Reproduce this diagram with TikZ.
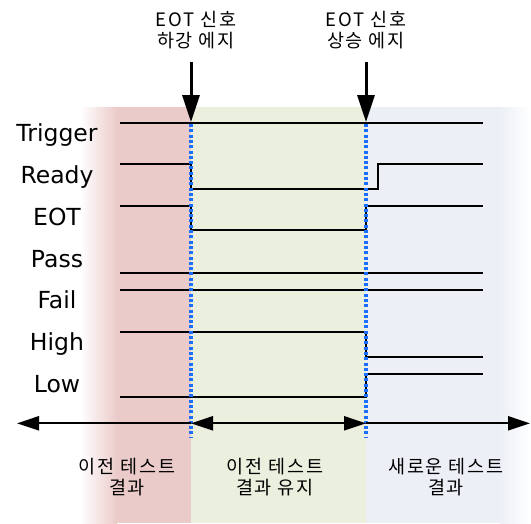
\documentclass[tikz,border=0pt]{standalone}
\usepackage{fontspec}
\setmainfont{DejaVu Sans}
\newfontfamily\kr[LetterSpace=10]{Noto Sans CJK KR}
\usepackage{xcolor}
\usetikzlibrary{arrows.meta}
\definecolor{bandred}{RGB}{235,203,202}
\definecolor{bandgreen}{RGB}{235,239,221}
\definecolor{bandblue}{RGB}{236,240,246}
\definecolor{edgeblue}{RGB}{26,111,255}

\begin{document}
\begin{tikzpicture}[
  x=1pt,y=-1pt,
  sig/.style={anchor=base,font=\fontsize{23.5}{26}\selectfont},
  note/.style={anchor=base,align=center,font=\kr\fontsize{18.5}{21}\selectfont},
  wave/.style={line width=2.2pt},
  edgeline/.style={edgeblue,line width=3.5pt,dash pattern=on 3pt off 2.3pt},
  drop/.style={-{Triangle[length=27pt,width=17pt]},line width=3pt},
  span/.style={-{Triangle[length=22pt,width=14pt]},line width=2.2pt},
  spanboth/.style={{Triangle[length=22pt,width=14pt]}-{Triangle[length=22pt,width=14pt]},line width=2.2pt}
]
\useasboundingbox (0,0) rectangle (531,523);
\shade[left color=white,right color=bandred] (80,107) rectangle (117,523);
\fill[bandred] (117,107) rectangle (191,523);
\fill[bandgreen] (191,107) rectangle (366,523);
\fill[bandblue] (366,107) rectangle (500,523);
\shade[left color=bandblue,right color=white] (500,107) rectangle (531,523);

\node[sig] (trigger) at (57,141.7) {Trigger};
\node[sig] (ready) at (57,183.5) {Ready};
\node[sig] (eot) at (57,225.3) {EOT};
\node[sig] (pass) at (57,267) {Pass};
\node[sig] (fail) at (57,308.8) {Fail};
\node[sig] (high) at (57,350.6) {High};
\node[sig] (low) at (57,392.4) {Low};

\draw[wave] (120,122.7) -- (483,122.7);
\draw[wave] (120,164.3) -| (191,188.7) -| (378,164.3) -- (483,164.3);
\draw[wave] (120,206) -| (191,230) -| (366,206) -- (483,206);
\draw[wave] (120,272.7) -- (483,272.7);
\draw[wave] (120,290.3) -- (483,290.3);
\draw[wave] (120,332) -| (366,356.7) -- (483,356.7);
\draw[wave] (120,397.3) -| (366,373.7) -- (483,373.7);

\draw[edgeline] (191,124) -- (191,437);
\draw[edgeline] (366,124) -- (366,437);

\node[note] (fall) at (196,47.7) {EOT 신호\\하강 에지};
\node[note] (rise) at (366,47.7) {EOT 신호\\상승 에지};
\coordinate (fallTop) at (191,62);
\coordinate (fallTip) at (191,122);
\coordinate (riseTop) at (366,62);
\coordinate (riseTip) at (366,122);
\draw[drop] (fallTop) -- (fallTip);
\draw[drop] (riseTop) -- (riseTip);

\coordinate (pastEnd) at (17,423.3);
\coordinate (fallMark) at (191,423.3);
\coordinate (riseMark) at (366,423.3);
\coordinate (nextEnd) at (530,423.3);
\draw[span] (fallMark) -- (pastEnd);
\draw[spanboth] (fallMark) -- (riseMark);
\draw[span] (riseMark) -- (nextEnd);

\node[note] (oldres) at (127,494) {이전 테스트\\결과};
\node[note] (keepres) at (275,494) {이전 테스트\\결과 유지};
\node[note] (newres) at (446,494) {새로운 테스트\\결과};
\end{tikzpicture}
\end{document}
